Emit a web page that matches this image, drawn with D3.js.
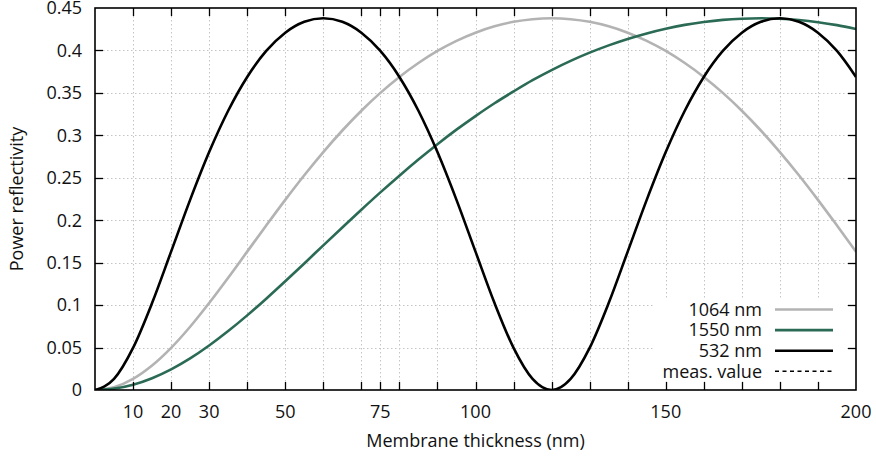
<!DOCTYPE html>
<html>
<head>
<meta charset="utf-8">
<script src="https://cdn.jsdelivr.net/npm/d3@7/dist/d3.min.js"></script>
<style>
  html, body { margin: 0; padding: 0; background: #fff; }
  svg { display: block; font-family: "Open Sans", sans-serif; }
</style>
</head>
<body>
<svg id="chart" width="876" height="459"></svg>
<script>
// Membrane thickness samples (nm)
const thickness = [0, 5, 10, 15, 20, 25, 30, 35, 40, 45, 50, 55, 60, 65, 70, 75, 80, 85, 90, 95,
  100, 105, 110, 115, 120, 125, 130, 135, 140, 145, 150, 155, 160, 165, 170, 175, 180, 185, 190, 195, 200];

// Power reflectivity at each thickness
const refl1064 = [0, 0.0033, 0.0131, 0.0288, 0.0496, 0.0745, 0.1024, 0.1322, 0.1630, 0.1938,
  0.2240, 0.2530, 0.2803, 0.3057, 0.3290, 0.3500, 0.3688, 0.3852, 0.3994, 0.4113,
  0.4209, 0.4284, 0.4337, 0.4368, 0.4379, 0.4368, 0.4337, 0.4284, 0.4209, 0.4113,
  0.3994, 0.3852, 0.3688, 0.3500, 0.3290, 0.3057, 0.2803, 0.2530, 0.2240, 0.1938, 0.1630];

const refl1550 = [0, 0.0016, 0.0062, 0.0139, 0.0243, 0.0372, 0.0524, 0.0694, 0.0879, 0.1076,
  0.1281, 0.1491, 0.1704, 0.1915, 0.2124, 0.2328, 0.2525, 0.2715, 0.2896, 0.3067,
  0.3227, 0.3378, 0.3517, 0.3650, 0.3769, 0.3877, 0.3974, 0.4060, 0.4136, 0.4201,
  0.4256, 0.4301, 0.4335, 0.4360, 0.4374, 0.4379, 0.4373, 0.4358, 0.4333, 0.4298, 0.4252];

const refl532 = [0, 0.0131, 0.0496, 0.1024, 0.1630, 0.2240, 0.2803, 0.3290, 0.3688, 0.3994,
  0.4209, 0.4337, 0.4379, 0.4337, 0.4209, 0.3994, 0.3688, 0.3290, 0.2803, 0.2240,
  0.1630, 0.1024, 0.0496, 0.0131, 0, 0.0131, 0.0496, 0.1024, 0.1630, 0.2240,
  0.2803, 0.3290, 0.3688, 0.3994, 0.4209, 0.4337, 0.4379, 0.4337, 0.4209, 0.3994, 0.3688];

// Axis ticks and labels
const xTickMarks = [10, 20, 30, 40, 50, 60, 70, 75, 80, 90, 100, 110, 120, 130, 140, 150, 160, 170, 180, 190];
const xTickLabels = [10, 20, 30, 50, 75, 100, 150, 200];
const yTicks = [0, 0.05, 0.1, 0.15, 0.2, 0.25, 0.3, 0.35, 0.4, 0.45];

const seriesNames = ["1064 nm", "1550 nm", "532 nm"];
const seriesColors = ["#b3b3b3", "#2b6b56", "#000000"];
const seriesValues = [refl1064, refl1550, refl532];

const svg = d3.select("#chart");
const plot = { left: 95, right: 856, top: 8, bottom: 390 };

const x = d3.scaleLinear().domain([0, 200]).range([plot.left, plot.right]);
const y = d3.scaleLinear().domain([0, 0.45]).range([plot.bottom, plot.top]);

svg.append("defs").append("clipPath").attr("id", "plotClip")
  .append("rect")
  .attr("x", plot.left).attr("y", plot.top)
  .attr("width", plot.right - plot.left).attr("height", plot.bottom - plot.top);

// Grid
const grid = svg.append("g").attr("stroke", "#c4c4c4").attr("stroke-width", 1)
  .attr("stroke-dasharray", "1.5,2.5");
grid.selectAll("line.gx").data(xTickMarks).join("line")
  .attr("x1", d => Math.round(x(d)) + 0.5).attr("x2", d => Math.round(x(d)) + 0.5)
  .attr("y1", plot.top).attr("y2", plot.bottom);
grid.selectAll("line.gy").data(yTicks.slice(1, -1)).join("line")
  .attr("y1", d => Math.round(y(d)) + 0.5).attr("y2", d => Math.round(y(d)) + 0.5)
  .attr("x1", plot.left).attr("x2", plot.right);

// Curves
const line = d3.line()
  .x((d, i) => x(thickness[i]))
  .y(d => y(d))
  .curve(d3.curveMonotoneX);

const curves = svg.append("g").attr("clip-path", "url(#plotClip)");
seriesValues.forEach((vals, k) => {
  curves.append("path")
    .datum(vals)
    .attr("fill", "none")
    .attr("stroke", seriesColors[k])
    .attr("stroke-width", 2.6)
    .attr("stroke-linejoin", "round")
    .attr("d", line);
});

// Legend
const legend = svg.append("g");
legend.append("rect")
  .attr("x", 655).attr("y", 298).attr("width", 190).attr("height", 83)
  .attr("fill", "#fff");
const legendItems = [
  { name: seriesNames[0], color: seriesColors[0], dash: null, width: 2.6 },
  { name: seriesNames[1], color: seriesColors[1], dash: null, width: 2.6 },
  { name: seriesNames[2], color: seriesColors[2], dash: null, width: 2.6 },
  { name: "meas. value", color: "#000", dash: "4,3.5", width: 1.6 }
];
legendItems.forEach((it, i) => {
  const cy = 309.5 + i * 20.6;
  legend.append("text")
    .attr("x", 762).attr("y", cy)
    .attr("dy", "0.35em")
    .attr("text-anchor", "end")
    .attr("font-size", 18)
    .attr("fill", "#111")
    .text(it.name);
  legend.append("line")
    .attr("x1", 775).attr("x2", 833)
    .attr("y1", cy).attr("y2", cy)
    .attr("stroke", it.color)
    .attr("stroke-width", it.width)
    .attr("stroke-dasharray", it.dash);
});

// Frame
svg.append("rect")
  .attr("x", plot.left).attr("y", plot.top)
  .attr("width", plot.right - plot.left).attr("height", plot.bottom - plot.top)
  .attr("fill", "none").attr("stroke", "#000").attr("stroke-width", 1.6);

// Tick marks on all four sides, pointing inward
const tickLen = 8;
const ticks = svg.append("g").attr("stroke", "#000").attr("stroke-width", 1.3);
xTickMarks.forEach(d => {
  const px = Math.round(x(d)) + 0.5;
  ticks.append("line").attr("x1", px).attr("x2", px).attr("y1", plot.bottom).attr("y2", plot.bottom - tickLen);
  ticks.append("line").attr("x1", px).attr("x2", px).attr("y1", plot.top).attr("y2", plot.top + tickLen);
});
yTicks.slice(1, -1).forEach(d => {
  const py = Math.round(y(d)) + 0.5;
  ticks.append("line").attr("x1", plot.left).attr("x2", plot.left + tickLen).attr("y1", py).attr("y2", py);
  ticks.append("line").attr("x1", plot.right).attr("x2", plot.right - tickLen).attr("y1", py).attr("y2", py);
});

// Tick labels
const fmtY = v => (v === 0 ? "0" : String(+v.toFixed(2)));
svg.append("g").selectAll("text").data(yTicks).join("text")
  .attr("x", 82).attr("y", d => y(d))
  .attr("dy", "0.35em")
  .attr("text-anchor", "end")
  .attr("font-size", 18)
  .attr("fill", "#111")
  .text(fmtY);

svg.append("g").selectAll("text").data(xTickLabels).join("text")
  .attr("x", d => x(d)).attr("y", 418)
  .attr("text-anchor", "middle")
  .attr("font-size", 18)
  .attr("fill", "#111")
  .text(d => d);

// Axis titles
svg.append("text")
  .attr("x", (plot.left + plot.right) / 2).attr("y", 447)
  .attr("text-anchor", "middle")
  .attr("font-size", 18)
  .attr("fill", "#111")
  .text("Membrane thickness (nm)");

svg.append("text")
  .attr("transform", `translate(23, ${(plot.top + plot.bottom) / 2}) rotate(-90)`)
  .attr("text-anchor", "middle")
  .attr("font-size", 18)
  .attr("fill", "#111")
  .text("Power reflectivity");
</script>
</body>
</html>
